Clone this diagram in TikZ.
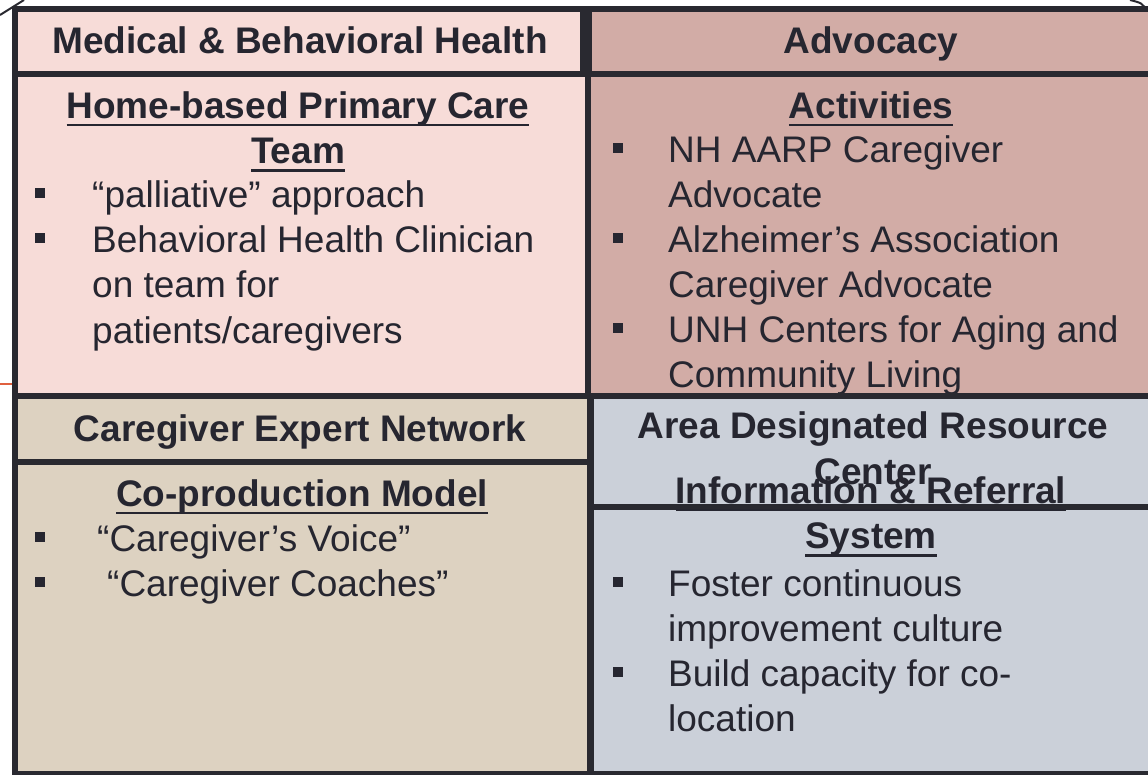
\documentclass[tikz,border=0pt]{standalone}
\usepackage{fontspec}
\setmainfont{Liberation Sans}
\usepackage{xcolor}

\definecolor{tlfill}{HTML}{F7DCD8}
\definecolor{trfill}{HTML}{D2ACA6}
\definecolor{blfill}{HTML}{DDD2C1}
\definecolor{brfill}{HTML}{CBD0D9}
\definecolor{rim}{HTML}{292930}
\definecolor{ink}{HTML}{262630}
\definecolor{slidered}{HTML}{E0603F}
\newcommand\ulword[1]{\setbox0\hbox{#1}\rlap{\rule[-8pt]{\wd0}{2.5pt}}\box0}

\begin{document}
\begin{tikzpicture}[x=1pt,y=-1pt,
    pane/.style={draw=rim,line width=6pt,anchor=north west,inner sep=0pt},
    hdr/.style={font=\fontsize{37}{45.5}\selectfont\bfseries,text=ink,anchor=base,align=center,inner sep=0pt},
    item/.style={font=\fontsize{37}{45.5}\selectfont,text=ink,anchor=base west,align=left,inner sep=0pt},
    sq/.style={fill=ink,minimum size=10pt,inner sep=0pt}]
  \useasboundingbox[fill=white] (0,0) rectangle (1148,774);
  % leftovers of the slide behind the grid
  \draw[rim,line width=2pt] (0,15) -- (24,0);
  \draw[rim,line width=2pt] (1130,0) .. controls (1142,3) .. (1148,12);
  \draw[slidered,line width=2pt] (0,384) -- (12,384);

  % upper row (multi-line texts sit on the baseline of their last line)
  \node[pane,fill=tlfill,minimum width=568pt,minimum height=65pt] (medhd) at (12,6) {};
  \node[pane,fill=trfill,minimum width=574pt,minimum height=65pt] (advhd) at (586,6) {};
  \node[pane,fill=tlfill,minimum width=573pt,minimum height=322pt] (medbody) at (12,71) {};
  \node[pane,fill=trfill,minimum width=575pt,minimum height=322pt] (advbody) at (585,71) {};

  \node[hdr] (medtitle) at (300,53) {Medical \& Behavioral Health};
  \node[hdr] (advtitle) at (871,53) {Advocacy};
  \node[hdr] (hbpc) at (298,163.5) {\ulword{Home-based Primary Care}\\\ulword{Team}};
  \node[hdr] (acts) at (871,118) {\ulword{Activities}};

  \node[item] (pall) at (92,207) {“palliative” approach};
  \node[item] (bhc) at (92,343) {Behavioral Health Clinician\\on team for\\patients/caregivers};
  \node[item] (aarp) at (668,207.5) {NH AARP Caregiver\\Advocate};
  \node[item] (alz) at (668,297.5) {Alzheimer’s Association\\Caregiver Advocate};
  \node[item] (unh) at (668,387.5) {UNH Centers for Aging and\\Community Living};

  % lower row
  \node[pane,fill=blfill,minimum width=575pt,minimum height=66pt] (cenhd) at (12,393) {};
  \node[pane,fill=brfill,minimum width=572pt,minimum height=111pt] (adrchd) at (588,393) {};
  \node[pane,fill=blfill,minimum width=575pt,minimum height=312pt] (cenbody) at (12,459) {};
  \node[pane,fill=brfill,minimum width=572pt,minimum height=267pt] (adrcbody) at (588,504) {};

  \node[hdr] (centitle) at (300,441) {Caregiver Expert Network};
  \node[hdr] (adrctitle) at (873,484) {Area Designated Resource\\Center};
  \node[hdr] (coprod) at (302,506) {\ulword{Co-production Model}};
  \node[hdr] (iandr) at (871,548.5) {\ulword{Information \& Referral}\\\ulword{System}};

  \node[item] (voice) at (97,551) {“Caregiver’s Voice”};
  \node[item] (coach) at (107,596) {“Caregiver Coaches”};
  \node[item] (foster) at (668,641.5) {Foster continuous\\improvement culture};
  \node[item] (build) at (668,731.5) {Build capacity for co-\\location};

  \foreach \bx/\by [count=\n] in {40/193,40/238,618/148,618/238,618/328,40/537,40/582,618/582,618/672}
    \node[sq] (dot\n) at (\bx,\by) {};
\end{tikzpicture}
\end{document}
